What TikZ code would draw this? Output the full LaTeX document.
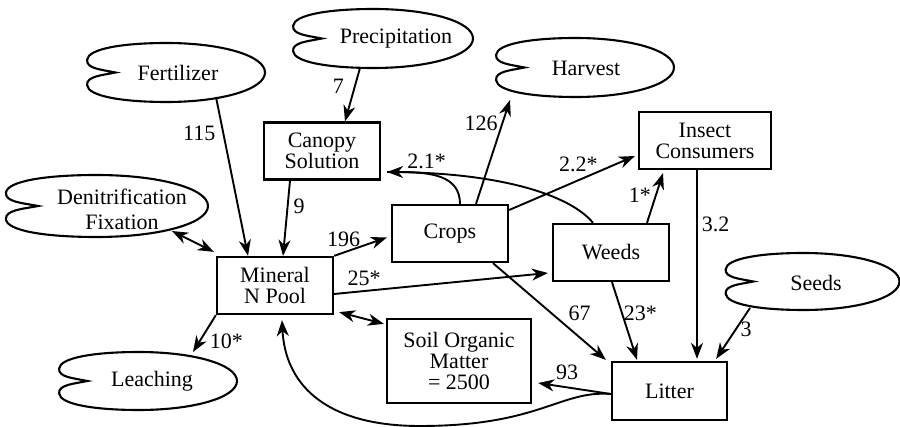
\documentclass[tikz,border=0pt]{standalone}
\usepackage{fontspec}
\setmainfont{Liberation Serif}
\usetikzlibrary{arrows.meta}

% cloud outline round a node: #1 node, #2,#3 offset, #4,#5 half width and height
\newcommand{\cloudshape}[5]{%
	\begin{scope}[shift={(#1.center)},shift={(#2,#3)},xscale=#4,yscale=#5]
		\draw[cloudline] (-0.69,0) .. controls (-0.85,-0.1) and (-1.02,-0.13) .. (-1.01,-0.43)
			.. controls (-1,-0.8) and (-0.62,-1) .. (-0.11,-1)
			.. controls (0.51,-1) and (1,-0.57) .. (1,0)
			.. controls (1,0.57) and (0.51,1) .. (-0.11,1)
			.. controls (-0.62,1) and (-1,0.8) .. (-1.01,0.43)
			.. controls (-1.02,0.13) and (-0.85,0.1) .. (-0.69,0) -- cycle;
	\end{scope}}

\begin{document}
\begin{tikzpicture}[x=1pt,y=-1pt,line width=1.9pt,>={Stealth[length=16pt,width=12pt,inset=5pt]},
	every node/.style={font=\fontsize{22}{21}\selectfont, inner sep=1pt},
	box/.style={draw, line width=2.3pt, align=center, minimum width=116pt, minimum height=57pt, inner sep=0pt},
	cloud/.style={align=center},
	cloudline/.style={line width=2.1pt}]
		\useasboundingbox (0,0) rectangle (900,427);
		%Sources and sinks
		\node [cloud] (fert) at (178,73) {Fertilizer};
		\node [cloud] (precip) at (396,39) {Precipitation};
		\node [cloud] (harvest) at (586,68) {Harvest};
		\node [cloud] (denit) at (122,209.5) {Denitrification\\[4pt]Fixation};
		\node [cloud] (leach) at (152,381) {Leaching};
		\node [cloud] (seeds) at (816,283) {Seeds};
		\cloudshape{fert}{-1.5}{-0.5}{88.5}{29.5}
		\cloudshape{precip}{-12.5}{-0.5}{89.5}{29.5}
		\cloudshape{harvest}{-0.5}{-0.5}{88.5}{29.5}
		\cloudshape{denit}{-14.5}{-3.5}{100.5}{31}
		\cloudshape{leach}{-3.5}{0}{88.5}{29}
		\cloudshape{seeds}{-3}{-1.5}{86.5}{28.5}
		%Pools
		\node [box] (canopy) at (322,151) {Canopy\\Solution};
		\node [box] (mineral) at (275,285.5) {Mineral\\N Pool};
		\node [box] (crops) at (450,233.5) {Crops};
		\node [box] (weeds) at (611,252.5) {Weeds};
		\node [box, minimum width=132pt] (insect) at (705,140.5) {Insect\\Consumers};
		\node [box, minimum width=144pt, minimum height=84pt] (som) at (459,361) {Soil Organic\\Matter\\= 2500};
		\node [box, minimum width=115pt, minimum height=58pt] (litter) at (669.5,391) {Litter};
		%Inputs
		\draw[->] ([shift={(38,24)}]fert.center) -- ([shift={(-27,0)}]mineral.north) node[pos=0.23,left=6pt] {115};
		\draw[->] ([shift={(-36,29)}]precip.center) -- ([shift={(23,0)}]canopy.north) node[pos=0.35,left=9pt] {7};
		\draw[->] ([shift={(-32,0)}]canopy.south) -- ([shift={(8,0)}]mineral.north) node[pos=0.34,right=4pt] {9};
		\draw[<->] ([shift={(50,21.5)}]denit.center) -- ([shift={(-2,-4)}]mineral.north west);
		%Mineral pool
		\draw[->] (mineral.north east) -- ([shift={(-4,4)}]crops.west) node[pos=0.18,above=4pt] {196};
		\draw[->] ([shift={(0,8.5)}]mineral.east) -- ([shift={(-4,20.5)}]weeds.west) node[pos=0.14,above=3pt] {25*};
		\draw[<->] ([shift={(5,-3)}]mineral.south east) -- ([shift={(-2,6)}]som.north west);
		\draw[->] (mineral.south west) -- ([shift={(41,-29)}]leach.center) node[pos=0.7,right=8pt] {10*};
		%Crops
		\draw[->] ([shift={(26,0)}]crops.north) -- ([shift={(-76,32)}]harvest.center) node[pos=0.78,left=3pt] {126};
		\draw[->] ([shift={(10,0)}]crops.north) .. controls (460,175) and (430,172) .. ([shift={(6,21)}]canopy.east) node[pos=0.65,above=3pt] {2.1*};
		\draw[->] ([shift={(0,-23.5)}]crops.east) -- ([shift={(-3,15.5)}]insect.west) node[pos=0.55,above=7pt] {2.2*};
		\draw[->] ([shift={(43,0)}]crops.south) -- ([shift={(-5,-1)}]litter.north west) node[pos=0.52,right=15pt] {67};
		%Weeds
		\draw ([shift={(-18,0)}]weeds.north) .. controls (570,195) and (500,172) .. ([shift={(6,21)}]canopy.east);
		\draw[->] ([shift={(36,0)}]weeds.north) -- ([shift={(-42,3)}]insect.south) node[pos=0.55,left=3pt] {1*};
		\draw[->] ([shift={(1,0)}]weeds.south) -- ([shift={(-32.5,-1)}]litter.north) node[pos=0.4,right=0pt] {23*};
		%Litter
		\draw[->] ([shift={(-8,0)}]insect.south) -- ([shift={(27.5,-2)}]litter.north) node[pos=0.29,right=3pt] {3.2};
		\draw[->] ([shift={(-66,25)}]seeds.center) -- ([shift={(-12,-2)}]litter.north east) node[pos=0.42,right=3pt] {3};
		\draw[->] ([shift={(0,3)}]litter.west) -- ([shift={(6,22)}]som.east) node[pos=0.6,above=6pt] {93};
		\draw[->] ([shift={(0,3)}]litter.west) .. controls (560,390) and (540,426) .. (420,426) .. controls (320,426) and (285,380) .. ([shift={(7,5)}]mineral.south);
\end{tikzpicture}
\end{document}
